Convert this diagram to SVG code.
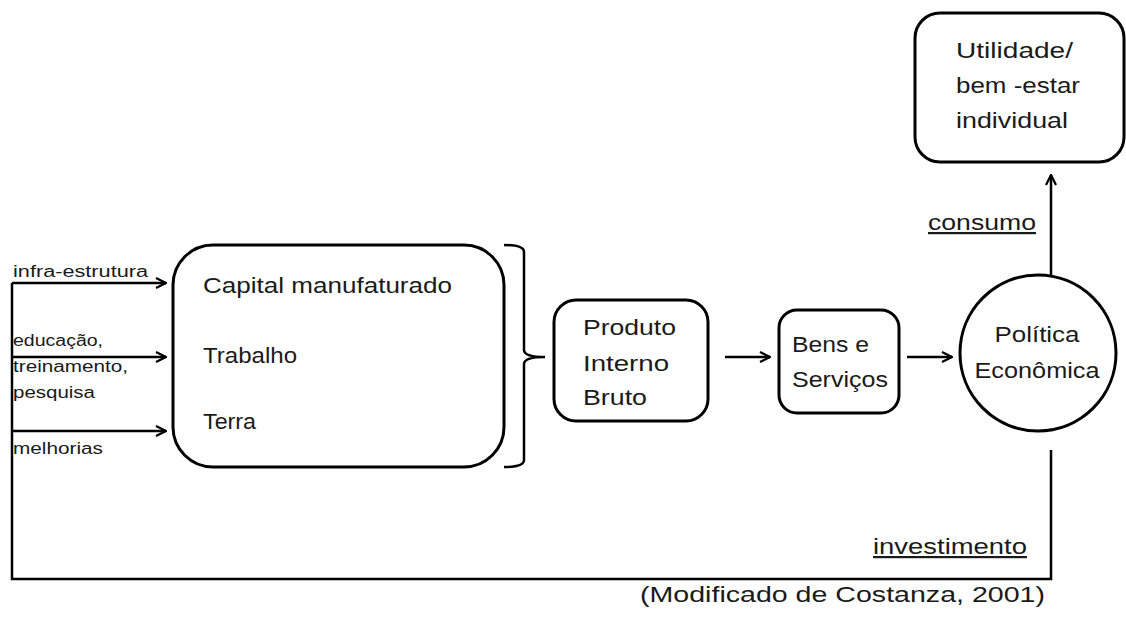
<svg xmlns="http://www.w3.org/2000/svg" width="1126" height="619" viewBox="0 0 1126 619">
<defs>
<marker id="ah" viewBox="0 0 12 12" refX="11" refY="6" markerWidth="12" markerHeight="12" markerUnits="userSpaceOnUse" orient="auto">
<path d="M1,1 L11,6 L1,11" fill="none" stroke="#000" stroke-width="2.2"/>
</marker>
<style>
.box{fill:#fff;stroke:#000;stroke-width:3}
.ln{fill:none;stroke:#000;stroke-width:2.5}
.t{font-family:"Liberation Sans",Arial,sans-serif;font-size:22px;fill:#1a1a1a}
.s{font-family:"Liberation Sans",Arial,sans-serif;font-size:16px;fill:#1a1a1a}
.u{text-decoration:underline}
</style>
</defs>
<rect width="1126" height="619" fill="#fff"/>
<g id="connectors">
<path class="ln" d="M12,283 L12,579 L1051,579 L1051,450"/>
<line class="ln" x1="12" y1="283" x2="166" y2="283" marker-end="url(#ah)"/>
<line class="ln" x1="12" y1="357" x2="166" y2="357" marker-end="url(#ah)"/>
<line class="ln" x1="12" y1="431" x2="166" y2="431" marker-end="url(#ah)"/>
<path class="ln" d="M504,245 Q524,245 524,252 L524,350 Q524,357 545,357 Q524,357 524,364 L524,460 Q524,467 504,467"/>
<line class="ln" x1="725" y1="357" x2="770" y2="357" marker-end="url(#ah)"/>
<line class="ln" x1="907" y1="357" x2="952" y2="357" marker-end="url(#ah)"/>
<line class="ln" x1="1051" y1="275" x2="1051" y2="175" marker-end="url(#ah)"/>
<text class="s" x="13" y="277" textLength="135" lengthAdjust="spacingAndGlyphs">infra-estrutura</text>
<text class="s" x="13" y="346" textLength="90" lengthAdjust="spacingAndGlyphs">educação,</text>
<text class="s" x="13" y="372" textLength="115" lengthAdjust="spacingAndGlyphs">treinamento,</text>
<text class="s" x="13" y="398" textLength="82" lengthAdjust="spacingAndGlyphs">pesquisa</text>
<text class="s" x="13" y="454" textLength="90" lengthAdjust="spacingAndGlyphs">melhorias</text>
<text class="t u" x="928" y="230" textLength="108" lengthAdjust="spacingAndGlyphs">consumo</text>
<text class="t u" x="873" y="554" textLength="154" lengthAdjust="spacingAndGlyphs">investimento</text>
</g>
<g id="capital">
<rect class="box" x="173" y="245" width="331" height="222" rx="40"/>
<text class="t" x="203" y="293" textLength="249" lengthAdjust="spacingAndGlyphs">Capital manufaturado</text>
<text class="t" x="203" y="363" textLength="94" lengthAdjust="spacingAndGlyphs">Trabalho</text>
<text class="t" x="203" y="429" textLength="53" lengthAdjust="spacingAndGlyphs">Terra</text>
</g>
<g id="pib">
<rect class="box" x="554" y="300" width="154" height="121" rx="22"/>
<text class="t" x="583" y="335" textLength="93" lengthAdjust="spacingAndGlyphs">Produto</text>
<text class="t" x="583" y="371" textLength="86" lengthAdjust="spacingAndGlyphs">Interno</text>
<text class="t" x="583" y="405" textLength="64" lengthAdjust="spacingAndGlyphs">Bruto</text>
</g>
<g id="bens">
<rect class="box" x="779" y="310" width="120" height="103" rx="18"/>
<text class="t" x="792" y="352" textLength="77" lengthAdjust="spacingAndGlyphs">Bens e</text>
<text class="t" x="792" y="387" textLength="96" lengthAdjust="spacingAndGlyphs">Serviços</text>
</g>
<g id="politica">
<circle class="box" cx="1038" cy="353" r="78"/>
<text class="t" x="1037" y="342" text-anchor="middle" textLength="85" lengthAdjust="spacingAndGlyphs">Política</text>
<text class="t" x="1037" y="378" text-anchor="middle" textLength="125" lengthAdjust="spacingAndGlyphs">Econômica</text>
</g>
<g id="utilidade">
<rect class="box" x="915" y="13" width="209" height="149" rx="25"/>
<text class="t" x="956" y="58" textLength="117" lengthAdjust="spacingAndGlyphs">Utilidade/</text>
<text class="t" x="956" y="93" textLength="124" lengthAdjust="spacingAndGlyphs">bem -estar</text>
<text class="t" x="956" y="128" textLength="112" lengthAdjust="spacingAndGlyphs">individual</text>
</g>
<text class="t" x="640" y="602" textLength="405" lengthAdjust="spacingAndGlyphs">(Modificado de Costanza, 2001)</text>
</svg>
